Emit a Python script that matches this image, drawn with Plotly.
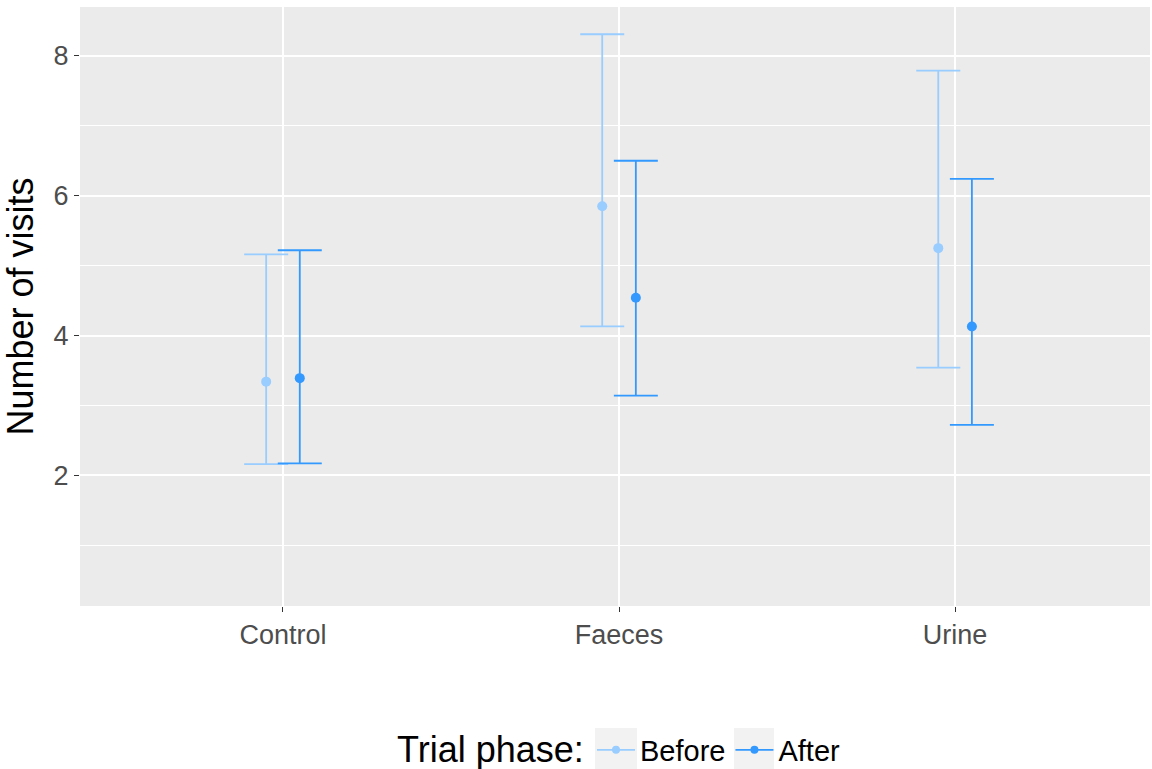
import plotly.graph_objects as go

categories = ["Control", "Faeces", "Urine"]
phases = ["Before", "After"]
before_mean = [3.34, 5.85, 5.25]
before_upper = [5.16, 8.31, 7.79]
before_lower = [2.16, 4.13, 3.54]
after_mean = [3.39, 4.54, 4.13]
after_upper = [5.22, 6.50, 6.24]
after_lower = [2.17, 3.14, 2.72]

colors = {"Before": "#99ccff", "After": "#3399ff"}
offsets = {"Before": -0.05, "After": 0.05}

fig = go.Figure()
for ph, m, up, lo in [("Before", before_mean, before_upper, before_lower),
                      ("After", after_mean, after_upper, after_lower)]:
    xs = [i + 1 + offsets[ph] for i in range(len(categories))]
    fig.add_trace(go.Scatter(
        x=xs, y=m, mode="markers", name=ph, showlegend=False,
        marker=dict(color=colors[ph], size=10),
        error_y=dict(type="data", symmetric=False,
                     array=[u - v for u, v in zip(up, m)],
                     arrayminus=[v - l for v, l in zip(m, lo)],
                     color=colors[ph], thickness=1.8, width=22),
    ))
    fig.add_trace(go.Scatter(
        x=[None], y=[None], mode="lines+markers", name=ph,
        line=dict(color=colors[ph], width=1.8),
        marker=dict(color=colors[ph], size=8),
    ))

# legend key backgrounds (ggplot grey95 key boxes)
for x0, x1 in [(0.4813, 0.5206), (0.6112, 0.6486)]:
    fig.add_shape(type="rect", xref="paper", yref="paper", x0=x0, x1=x1,
                  y0=-0.2721, y1=-0.2037, fillcolor="#f2f2f2", line_width=0, layer="below")

fig.add_annotation(text="Trial phase:", xref="paper", yref="paper",
                   x=0.4725, y=-0.2404, xanchor="right", yanchor="middle",
                   showarrow=False, font=dict(size=36, color="black"))

fig.update_layout(
    width=1152, height=769,
    margin=dict(l=80, r=2, t=7, b=163, autoexpand=False),
    plot_bgcolor="#ebebeb", paper_bgcolor="rgba(0,0,0,0)",
    font=dict(family="Liberation Sans, Arial, sans-serif"),
    legend=dict(orientation="h", x=0.4785, xanchor="left", y=-0.2404, yanchor="middle",
                font=dict(size=29, color="black"), itemwidth=38, bgcolor="rgba(0,0,0,0)"),
    showlegend=True,
)
fig.update_xaxes(
    range=[0.396, 3.58], tickvals=[1, 2, 3], ticktext=categories,
    showgrid=True, gridcolor="white", gridwidth=1.5, zeroline=False,
    ticks="outside", ticklen=5, tickcolor="#333333", tickwidth=1,
    tickfont=dict(size=27, color="#4d4d4d"), showline=False,
)
fig.update_yaxes(
    range=[0.13, 8.70], tickvals=[2, 4, 6, 8],
    showgrid=True, gridcolor="white", gridwidth=1.5, zeroline=False,
    minor=dict(tickvals=[1, 3, 5, 7], showgrid=True, gridcolor="white", gridwidth=0.8),
    ticks="outside", ticklen=5, tickcolor="#333333", tickwidth=1,
    tickfont=dict(size=27, color="#4d4d4d"), showline=False,
    title=dict(text="Number of visits", font=dict(size=36, color="black"), standoff=8),
)

fig.write_html("out.html", config={"displayModeBar": False},
               post_script="document.body.style.margin='0';document.body.style.overflow='hidden';")
